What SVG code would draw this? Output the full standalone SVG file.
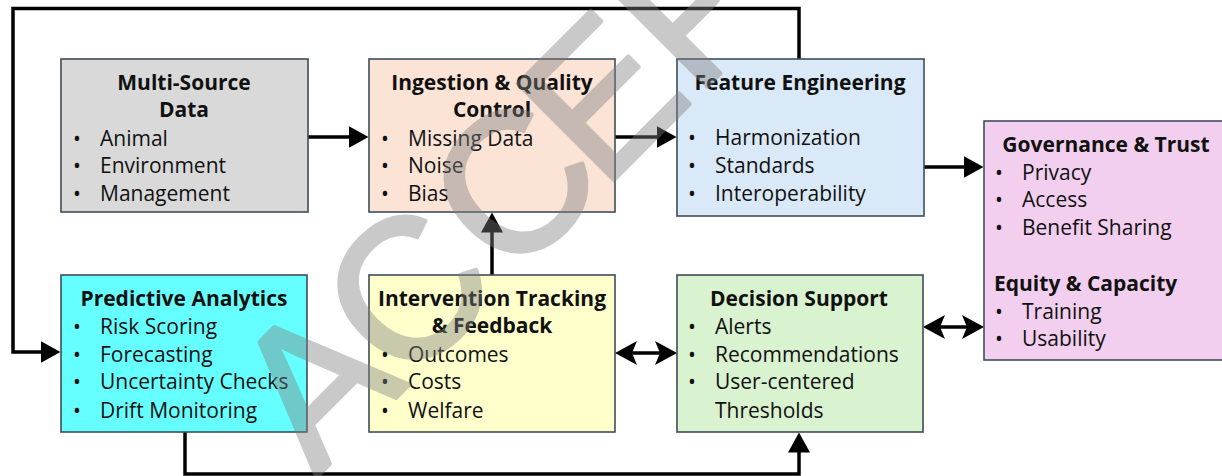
<svg xmlns="http://www.w3.org/2000/svg" width="1222" height="476" viewBox="0 0 1222 476">
<defs>
<style>
.box{stroke:#3e4e5a;stroke-width:1.6}
.t{font-family:"Open Sans","Noto Sans",sans-serif;font-size:21px;fill:#111}
.h{font-family:"Open Sans","Noto Sans",sans-serif;font-size:21px;font-weight:bold;fill:#111;text-anchor:middle}
.hl{font-family:"Open Sans","Noto Sans",sans-serif;font-size:21px;font-weight:bold;fill:#111}
.ln{fill:none;stroke:#000;stroke-width:3.5}
.wm{font-family:"Liberation Sans",Arial,sans-serif;font-size:198px;fill:#7f7f7f;stroke:#7f7f7f;stroke-width:4;stroke-linejoin:round;opacity:0.42}
</style>
<marker id="ah" viewBox="0 0 20 22" refX="0.5" refY="11" markerWidth="20" markerHeight="22" markerUnits="userSpaceOnUse" orient="auto">
<path d="M0,0 L20,11 L0,22 Z" fill="#000"/>
</marker>
<marker id="as" viewBox="0 0 22 24" refX="7" refY="12" markerWidth="22" markerHeight="24" markerUnits="userSpaceOnUse" orient="auto-start-reverse">
<path d="M0,0 L22,12 L0,24 L5,12 Z" fill="#000"/>
</marker>
</defs>
<rect width="1222" height="476" fill="#fff"/>

<g id="connectors">
<path class="ln" d="M799,59 V8.5 H13 V352 H41" marker-end="url(#ah)"/>
<path class="ln" d="M308,137 H349" marker-end="url(#ah)"/>
<path class="ln" d="M615,137 H657" marker-end="url(#ah)"/>
<path class="ln" d="M924,167 H964" marker-end="url(#ah)"/>
<path class="ln" d="M492,275 V232" marker-end="url(#ah)"/>
<path class="ln" d="M630,353 H662" marker-start="url(#as)" marker-end="url(#as)"/>
<path class="ln" d="M938,327 H969" marker-start="url(#as)" marker-end="url(#as)"/>
<path class="ln" d="M185,432 V474 H799 V452" marker-end="url(#ah)"/>
</g>

<g id="multi-source">
<rect class="box" x="61" y="59" width="247" height="153" fill="#d9d9d9"/>
<text class="h" x="184" y="90">Multi-Source</text>
<text class="h" x="184" y="117">Data</text>
<text class="t" x="73" y="146">•</text><text class="t" x="100" y="146">Animal</text>
<text class="t" x="73" y="173">•</text><text class="t" x="100" y="173">Environment</text>
<text class="t" x="73" y="201">•</text><text class="t" x="100" y="201">Management</text>
</g>

<g id="ingestion">
<rect class="box" x="369" y="59" width="246" height="153" fill="#fbe4d6"/>
<text class="h" x="492" y="90">Ingestion &amp; Quality</text>
<text class="h" x="492" y="117">Control</text>
<text class="t" x="381" y="146">•</text><text class="t" x="408" y="146">Missing Data</text>
<text class="t" x="381" y="173">•</text><text class="t" x="408" y="173">Noise</text>
<text class="t" x="381" y="201">•</text><text class="t" x="408" y="201">Bias</text>
</g>

<g id="feature-engineering">
<rect class="box" x="677" y="59" width="247" height="157" fill="#dae9f7"/>
<text class="h" x="800" y="90">Feature Engineering</text>
<text class="t" x="688" y="145">•</text><text class="t" x="715" y="145">Harmonization</text>
<text class="t" x="688" y="173">•</text><text class="t" x="715" y="173">Standards</text>
<text class="t" x="688" y="201">•</text><text class="t" x="715" y="201">Interoperability</text>
</g>

<g id="governance">
<rect class="box" x="984" y="121" width="242" height="239" fill="#f2cfee"/>
<text class="h" x="1106" y="152">Governance &amp; Trust</text>
<text class="t" x="995" y="180">•</text><text class="t" x="1022" y="180">Privacy</text>
<text class="t" x="995" y="207">•</text><text class="t" x="1022" y="207">Access</text>
<text class="t" x="995" y="235">•</text><text class="t" x="1022" y="235">Benefit Sharing</text>
<text class="hl" x="994" y="291">Equity &amp; Capacity</text>
<text class="t" x="995" y="319">•</text><text class="t" x="1022" y="319">Training</text>
<text class="t" x="995" y="346">•</text><text class="t" x="1022" y="346">Usability</text>
</g>

<g id="predictive-analytics">
<rect class="box" x="61" y="275" width="246" height="157" fill="#66ffff"/>
<text class="h" x="184" y="306">Predictive Analytics</text>
<text class="t" x="73" y="334">•</text><text class="t" x="100" y="334">Risk Scoring</text>
<text class="t" x="73" y="362">•</text><text class="t" x="100" y="362">Forecasting</text>
<text class="t" x="73" y="389">•</text><text class="t" x="100" y="389">Uncertainty Checks</text>
<text class="t" x="73" y="418">•</text><text class="t" x="100" y="418">Drift Monitoring</text>
</g>

<g id="intervention">
<rect class="box" x="369" y="275" width="246" height="157" fill="#ffffcc"/>
<text class="h" x="492" y="306">Intervention Tracking</text>
<text class="h" x="492" y="333">&amp; Feedback</text>
<text class="t" x="381" y="362">•</text><text class="t" x="408" y="362">Outcomes</text>
<text class="t" x="381" y="389">•</text><text class="t" x="408" y="389">Costs</text>
<text class="t" x="381" y="418">•</text><text class="t" x="408" y="418">Welfare</text>
</g>

<g id="decision-support">
<rect class="box" x="677" y="275" width="246" height="157" fill="#d9f2d0"/>
<text class="h" x="799" y="306">Decision Support</text>
<text class="t" x="688" y="334">•</text><text class="t" x="715" y="334">Alerts</text>
<text class="t" x="688" y="362">•</text><text class="t" x="715" y="362">Recommendations</text>
<text class="t" x="688" y="389">•</text><text class="t" x="715" y="389">User-centered</text>
<text class="t" x="715" y="418">Thresholds</text>
</g>

<g id="watermark">
<text class="wm" transform="translate(307,487) rotate(-45)" x="13 138 288 418 550">ACCEP</text>
</g>
</svg>
